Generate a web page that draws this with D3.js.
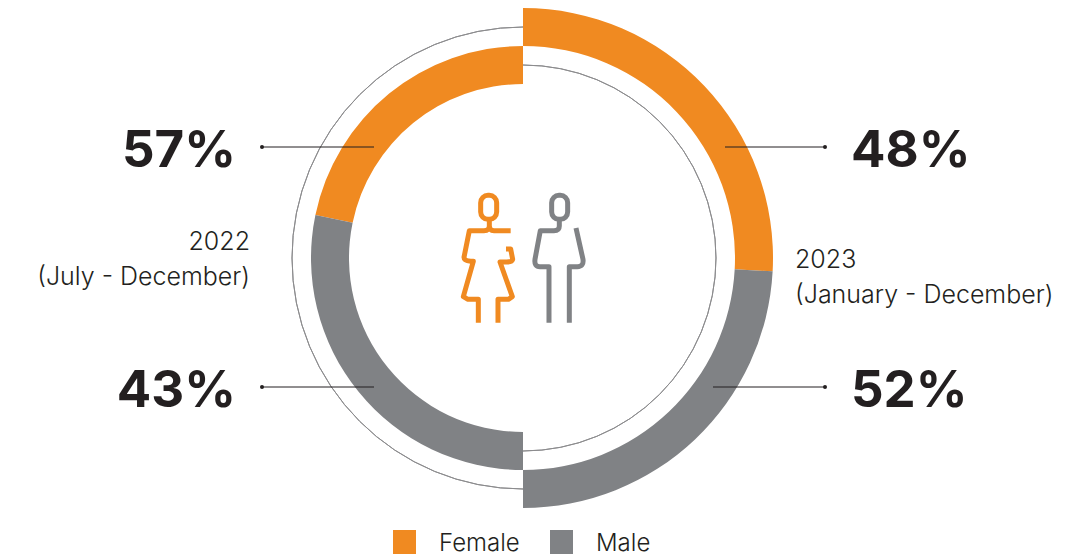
<!DOCTYPE html>
<html>
<head>
<meta charset="utf-8">
<script src="https://cdn.jsdelivr.net/npm/d3@7"></script>
<style>
  html, body { margin: 0; padding: 0; background: #fff; }
  svg { display: block; }
  text { font-family: Inter, sans-serif; fill: #231f20; }
</style>
</head>
<body>
<svg id="vis" width="1088" height="554"></svg>
<script>
// drawn shares of each half ring, as read off the arcs (not the printed labels)
const categories = ["Female", "Male"];
const arcShare2022 = [43.5, 56.5];
const arcShare2023 = [51.7, 48.3];
// percentages as printed next to the rings
const labels2022 = ["57%", "43%"];
const labels2023 = ["48%", "52%"];
const period2022 = ["2022", "(July - December)"];
const period2023 = ["2023", "(January - December)"];
const colors = ["#f08a21", "#808285"];

const cx = 523, cy = 258;
const svg = d3.select("#vis");
const g = svg.append("g").attr("transform", `translate(${cx},${cy})`);

const color = d3.scaleOrdinal().domain(categories).range(colors);
const arc = d3.arc();

function halfRing(values, endAngle, inner, outer) {
  const pie = d3.pie().sort(null).startAngle(0).endAngle(endAngle);
  g.append("g").selectAll("path")
    .data(pie(values))
    .join("path")
    .attr("fill", (d, i) => color(categories[i]))
    .attr("d", d => arc({innerRadius: inner, outerRadius: outer, startAngle: d.startAngle, endAngle: d.endAngle}));
}

function thinArc(endAngle, r) {
  g.append("path")
    .attr("fill", "none")
    .attr("stroke", "#8c8c8e")
    .attr("stroke-width", 1)
    .attr("d", d3.arc()({innerRadius: r, outerRadius: r, startAngle: 0, endAngle: endAngle}));
}

halfRing(arcShare2022, -Math.PI, 174, 212);
halfRing(arcShare2023, Math.PI, 212, 250);
thinArc(-Math.PI, 231);
thinArc(Math.PI, 193);

// leader lines with a dot on the outer end
function leader(x1, x2, y) {
  svg.append("line")
    .attr("x1", x1).attr("x2", x2).attr("y1", y).attr("y2", y)
    .attr("stroke", "#231f20").attr("stroke-width", 1);
  svg.append("circle").attr("cx", x1).attr("cy", y).attr("r", 2).attr("fill", "#231f20");
}
leader(262, 374, 147);
leader(262, 374, 387);
leader(825, 725, 147);
leader(825, 713, 387);

function bigLabel(txt, x, y, anchor) {
  svg.append("text")
    .attr("x", x).attr("y", y)
    .attr("text-anchor", anchor)
    .attr("font-size", 51)
    .attr("font-weight", 700)
    .text(txt);
}
bigLabel(labels2022[0], 236, 167, "end");
bigLabel(labels2022[1], 236, 407, "end");
bigLabel(labels2023[0], 851, 167, "start");
bigLabel(labels2023[1], 851, 407, "start");

function period(lines, x, y, anchor) {
  svg.append("g").selectAll("text")
    .data(lines)
    .join("text")
    .attr("x", x)
    .attr("y", (d, i) => y + i * 34.5)
    .attr("text-anchor", anchor)
    .attr("font-size", 25)
    .attr("font-weight", 300)
    .text(d => d);
}
period(period2022, 250, 250, "end");
period(period2023, 795, 268, "start");

// legend
const legendX = [393, 550];
const legend = svg.append("g").selectAll("g")
  .data(categories)
  .join("g")
  .attr("transform", (d, i) => `translate(${legendX[i]},530)`);
legend.append("rect")
  .attr("width", 23).attr("height", 24)
  .attr("fill", d => color(d));
legend.append("text")
  .attr("x", 46).attr("y", 21)
  .attr("font-size", 24)
  .attr("font-weight", 300)
  .text(d => d);

// people icon, traced in a 3x frame
const icon = svg.append("g")
  .attr("transform", "translate(440,170) scale(0.3333)")
  .attr("fill", "none")
  .attr("stroke-width", 15)
  .attr("stroke-linejoin", "round");

const female = icon.append("g").attr("stroke", colors[0]);
female.append("rect").attr("x", 122).attr("y", 76).attr("width", 48).attr("height", 72).attr("rx", 22);
female.append("path").attr("d", "M212 182H162Q148 182 148 168V150M148 168Q148 182 132 182H88L72 262Q72 272 92 274H100L70 380L84 388H115V458");
female.append("path").attr("d", "M198 237H212L218 268Q216 276 200 276H180L217 380L205 388H174V458");

const male = icon.append("g").attr("stroke", colors[1]);
male.append("rect").attr("x", 335).attr("y", 76).attr("width", 48).attr("height", 72).attr("rx", 22);
male.append("path").attr("d", "M358 150V168Q358 182 342 182H301L285 268Q282 290 300 290H327V458");
male.append("path").attr("d", "M408 174L429 268Q432 290 412 290H388V458");
</script>
</body>
</html>
